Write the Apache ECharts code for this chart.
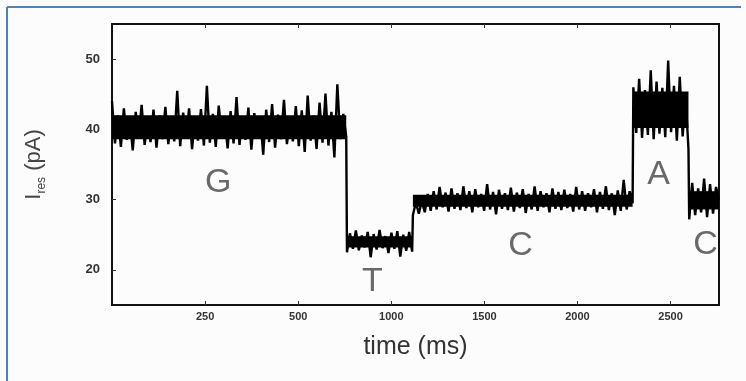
<!DOCTYPE html>
<html>
<head>
<meta charset="utf-8">
<script src="https://cdn.jsdelivr.net/npm/echarts@6/dist/echarts.min.js"></script>
<style>
  html, body { margin: 0; padding: 0; background: #fcfcfc; }
  #chart { width: 746px; height: 381px; }
</style>
</head>
<body>
<div id="chart"></div>
<script>
// tick positions (ms) and the labels printed under them
const xTickValues = [250, 500, 750, 1000, 1250, 1500];
const xTickLabels = ['250', '500', '1000', '1500', '2000', '2500'];
const yTickValues = [20, 30, 40, 50];

// segment boundaries in ms: G, T, C, A, C
const segStart = [0, 631, 808, 1400, 1550];
const segEnd = [629, 806, 1398, 1548, 1630];

// dense core of the noise band for each level (pA)
const coreLow = [38.6, 23.2, 29.0, 40.2, 28.6];
const coreHigh = [42.0, 24.8, 30.7, 45.4, 31.2];

// current readings (pA) for each base level
const levelG = [
  44, 38, 42, 37.5, 43, 38.5, 41.5, 37, 42.5, 39,
  43.5, 37.8, 41, 38.2, 42.8, 37.4, 42, 38.6, 43.2, 37.9,
  41.8, 38.3, 45.5, 37.6, 42.4, 38.8, 43, 37.2, 41.6, 38.4,
  42.9, 37.7, 46.2, 38.1, 42.2, 37.5, 43.4, 38.9, 41.4, 37.3,
  42.6, 38, 44.6, 37.8, 41.9, 38.5, 43.1, 37.1, 42.3, 38.7,
  41.7, 36.4, 42.8, 38.2, 43.6, 37.4, 42.1, 38.6, 44.2, 37.9,
  41.5, 38.3, 43.3, 37.6, 42.7, 36.8, 44.8, 38.4, 42, 37.2,
  43.8, 38.1, 45.1, 37.7, 42.5, 36, 46.4, 38.6, 42.2, 39
];
const levelT = [
  22.5, 25.2, 23, 25.6, 22.8, 24.9, 23.2, 25.4, 21.8, 25.1,
  22.9, 25.7, 23.1, 24.8, 22.4, 25.3, 23, 25.5, 21.9, 25,
  22.7, 25.4, 22.6
];
const levelC = [
  27.8, 29.6, 28, 29.8, 28.2, 30.8, 28.4, 31.2, 28.6, 31.8,
  28.9, 31, 28.3, 31.6, 28.7, 30.9, 28.5, 31.9, 28.8, 31.2,
  28.2, 31.5, 28.9, 30.8, 28.4, 32.2, 28.6, 31.1, 27.9, 31.4,
  28.7, 30.9, 28.5, 31.7, 28.3, 31, 28.8, 31.5, 28.1, 30.8,
  28.6, 31.9, 28.4, 31.2, 28.9, 30.9, 28.2, 31.6, 28.7, 31.1,
  28.5, 31.4, 28.8, 30.8, 28.3, 31.8, 28.6, 31.2, 28.4, 30.9,
  28.9, 31.5, 28.2, 31.1, 28.7, 31.9, 28.5, 30.9, 27.8, 31.3,
  28.4, 32.8, 28.6, 31.2, 29.5
];
const levelA = [
  46, 39.5, 47.2, 38.8, 45.6, 39.2, 48.4, 38.6, 46.8, 39.4,
  45.9, 38.9, 49.8, 39.6, 46.2, 38.4, 47.5, 39, 44.8, 37.2
];
const levelC2 = [27.2, 32.4, 27.8, 31.6, 28.2, 33, 27.5, 32.2, 28, 31.8, 30];

// base labels and where they sit (ms, pA)
const baseNames = ['G', 'T', 'C', 'A', 'C'];
const baseTimes = [285, 699, 1097, 1468, 1594];
const baseLevels = [32.4, 18.3, 23.4, 33.6, 23.6];

const levels = [levelG, levelT, levelC, levelA, levelC2];
const trace = [];
levels.forEach((vals, s) => {
  const step = (segEnd[s] - segStart[s]) / (vals.length - 1);
  vals.forEach((v, i) => trace.push([segStart[s] + i * step, v]));
});

const bands = segStart.map((t0, s) => [t0, segEnd[s], coreLow[s], coreHigh[s]]);

const chart = echarts.init(document.getElementById('chart'));

const option = {
  animation: false,
  backgroundColor: '#fcfcfc',
  grid: {
    left: 112, right: 27, top: 24, bottom: 76,
    show: true, borderColor: '#111', borderWidth: 2
  },
  graphic: [
    { type: 'line', shape: { x1: 7, y1: 7, x2: 741, y2: 7 }, style: { stroke: '#4f81bd', lineWidth: 2 } },
    { type: 'line', shape: { x1: 7, y1: 7, x2: 7, y2: 381 }, style: { stroke: '#4f81bd', lineWidth: 2 } }
  ],
  xAxis: [
    {
      type: 'value', min: 0, max: 1630, position: 'bottom',
      name: 'time (ms)', nameLocation: 'middle', nameGap: 30,
      nameTextStyle: { fontFamily: 'Liberation Sans', fontSize: 25, color: '#333' },
      axisLine: { show: true, lineStyle: { color: '#111', width: 2 } },
      axisTick: { show: true, inside: true, length: 4, customValues: xTickValues, lineStyle: { color: '#333' } },
      axisLabel: {
        customValues: xTickValues, margin: 6,
        fontFamily: 'Liberation Sans', fontSize: 11, fontWeight: 'bold', color: '#333',
        formatter: (v) => xTickLabels[xTickValues.indexOf(v)] || ''
      },
      splitLine: { show: false }
    },
    {
      type: 'value', min: 0, max: 1630, position: 'top',
      axisLine: { show: true, lineStyle: { color: '#111', width: 2 } },
      axisTick: { show: true, inside: true, length: 4, customValues: xTickValues, lineStyle: { color: '#333' } },
      axisLabel: { show: false },
      splitLine: { show: false }
    }
  ],
  yAxis: {
    type: 'value', min: 15, max: 55,
    name: '{a|I}{sub|res}{a| (pA)}', nameLocation: 'middle', nameGap: 64, nameRotate: 90,
    nameTextStyle: {
      rich: {
        a: { fontFamily: 'Liberation Sans', fontSize: 22, color: '#444', lineHeight: 28 },
        sub: { fontFamily: 'Liberation Sans', fontSize: 12, color: '#444', lineHeight: 28, verticalAlign: 'bottom', padding: [10, 0, 0, 0] }
      }
    },
    axisLine: { show: true, lineStyle: { color: '#111', width: 2 } },
    axisTick: { show: true, inside: true, length: 4, customValues: yTickValues, lineStyle: { color: '#333' } },
    axisLabel: {
      customValues: yTickValues, margin: 12,
      fontFamily: 'Liberation Sans', fontSize: 13, fontWeight: 'bold', color: '#333'
    },
    splitLine: { show: false }
  },
  series: [
    {
      type: 'custom',
      data: bands,
      silent: true,
      z: 2,
      renderItem: (params, api) => {
        const p0 = api.coord([api.value(0), api.value(3)]);
        const p1 = api.coord([api.value(1), api.value(2)]);
        return {
          type: 'rect',
          shape: { x: p0[0], y: p0[1], width: p1[0] - p0[0], height: p1[1] - p0[1] },
          style: { fill: '#000' }
        };
      },
      encode: { x: [0, 1], y: [2, 3] }
    },
    {
      type: 'line',
      data: trace,
      showSymbol: false,
      lineStyle: { color: '#000', width: 2.4 },
      z: 3
    },
    {
      type: 'scatter',
      symbolSize: 0,
      data: baseNames.map((n, i) => [baseTimes[i], baseLevels[i], n]),
      label: {
        show: true, position: 'inside',
        formatter: (p) => p.data[2],
        fontFamily: 'Liberation Sans', fontSize: 34, color: '#444'
      },
      z: 4
    }
  ]
};

chart.setOption(option);
</script>
</body>
</html>
